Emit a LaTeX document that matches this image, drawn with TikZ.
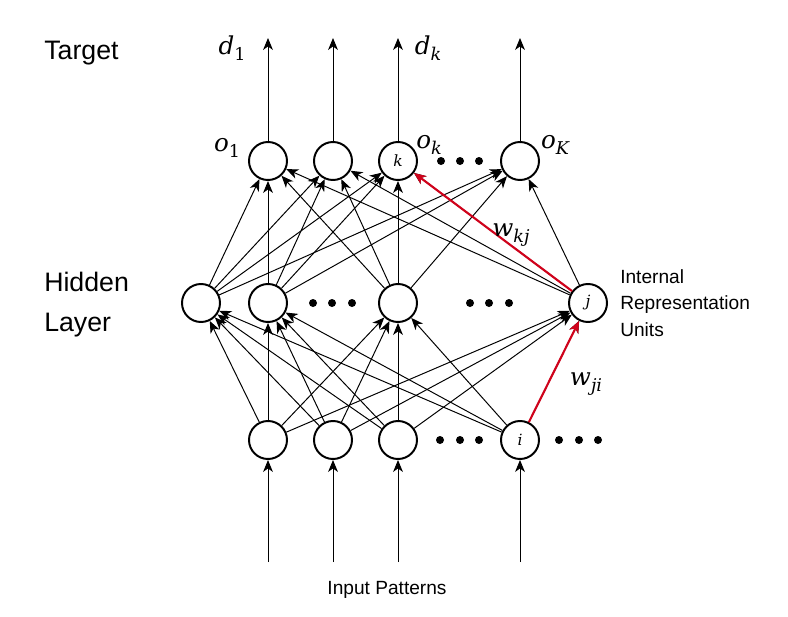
\documentclass[tikz,border=0pt]{standalone}
\usepackage[no-math]{fontspec}
\setmainfont{Liberation Sans}
\newfontfamily\lblfont{DejaVu Serif}
\usetikzlibrary{arrows.meta}
\definecolor{wred}{RGB}{208,2,27}
% italic label with a lowered index
\newcommand{\ilbl}[2]{{\lblfont\itshape #1\raisebox{-0.45ex}{\fontsize{12.5}{13}\selectfont #2}}}

\tikzset{
  neuron/.style={circle, draw, line width=1.4pt, minimum size=0.95cm, inner sep=0pt, font=\fontsize{11}{12}\selectfont\lblfont\itshape},
  conn/.style={->, line width=0.7pt},
  redconn/.style={->, line width=1.5pt, draw=wred, fill=wred},
  biglbl/.style={font=\fontsize{19}{28}\selectfont},
  smalllbl/.style={font=\fontsize{13.6}{18.5}\selectfont},
  mathlbl/.style={inner sep=0pt, font=\fontsize{17.5}{19}\selectfont}
}

\begin{document}
\begin{tikzpicture}[>={Stealth[length=8.5pt,width=7pt,inset=2.5pt]}]
\useasboundingbox (0,0) rectangle (19.7,15.4);

% layers
\foreach \x/\t [count=\n] in {6.7/,8.325/,9.95/k,13.0/} {
  \node[neuron] (o\n) at (\x,11.375) {\t};
  \coordinate (d\n) at (\x,14.45);
}
\foreach \x/\t [count=\n] in {5.025/,6.7/,9.95/,14.7/j} {
  \node[neuron] (h\n) at (\x,7.825) {\t};
}
\foreach \x/\t [count=\n] in {6.7/,8.325/,9.95/,13.0/i} {
  \node[neuron] (i\n) at (\x,4.4) {\t};
  \coordinate (s\n) at (\x,1.35);
}

% connections
\foreach \a in {1,...,4} {
  \foreach \b in {1,...,4} {
    \draw[conn] (h\a) -- (o\b);
    \draw[conn] (i\a) -- (h\b);
  }
  \draw[conn] (o\a) -- (d\a);
  \draw[conn] (s\a) -- (i\a);
}
\draw[redconn] (h4) -- (o3);
\draw[redconn] (i4) -- (h4);

% dots
\foreach \x in {11.025,11.5,11.975} \fill (\x,11.375) circle (0.1);
\foreach \x in {7.825,8.3,8.8,11.75,12.225,12.725} \fill (\x,7.825) circle (0.1);
\foreach \x in {11.0,11.5,11.975,13.975,14.475,14.95} \fill (\x,4.4) circle (0.1);

% labels
\node[biglbl, anchor=base west, inner sep=0pt] (target) at (1.1,13.925) {Target};
\node[biglbl, anchor=base west, inner sep=0pt, align=left] (hidden) at (1.1,7.125) {Hidden\\Layer};
\node[smalllbl, anchor=base west, inner sep=0pt, align=left] (iru) at (15.5,7.0) {Internal\\Representation\\Units};
\node[smalllbl, anchor=base, inner sep=0pt] (input) at (9.675,0.55) {Input Patterns};

\node[mathlbl] (d1lbl) at (5.8,14.2) {\ilbl{d}{\upshape 1}};
\node[mathlbl] (dklbl) at (10.7,14.2) {\ilbl{d}{k}};
\node[mathlbl] (o1lbl) at (5.675,11.7) {\ilbl{o}{\upshape 1}};
\node[mathlbl] (oklbl) at (10.725,11.775) {\ilbl{o}{k}};
\node[mathlbl] (oKlbl) at (13.875,11.775) {\ilbl{o}{K}};
\node[mathlbl] (wkj) at (12.775,9.525) {\ilbl{w}{kj}};
\node[mathlbl] (wji) at (14.65,5.8) {\ilbl{w}{ji}};

\end{tikzpicture}
\end{document}
